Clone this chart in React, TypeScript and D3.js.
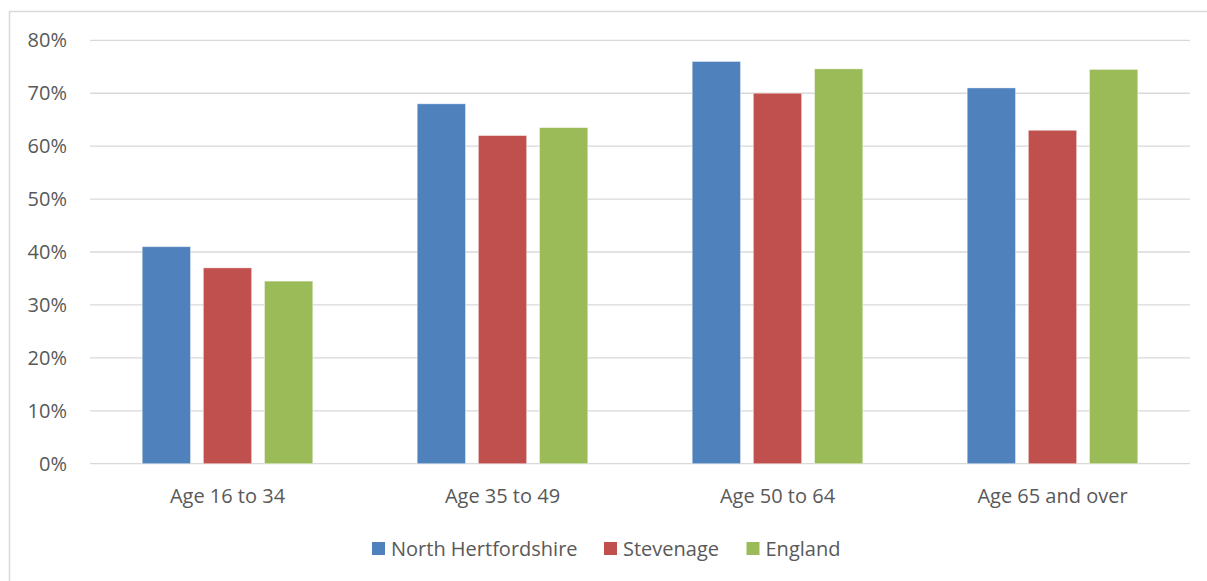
import React from "react";
import * as d3 from "d3";

const categories = ["Age 16 to 34", "Age 35 to 49", "Age 50 to 64", "Age 65 and over"];
const seriesNames = ["North Hertfordshire", "Stevenage", "England"];
const northHerts = [41, 68, 76, 71];
const stevenage = [37, 62, 70, 63];
const england = [34.5, 63.5, 74.6, 74.5];
const seriesValues = [northHerts, stevenage, england];
const colors = ["#4F81BD", "#C0504D", "#9BBB59"];
const yTicks = [0, 10, 20, 30, 40, 50, 60, 70, 80];

const W = 1207;
const H = 581;
const FONT = "'Open Sans', sans-serif";
const TEXT = "#595959";
const FS = 20;

export default function App() {
  const left = 90, right = 1190, top = 40.3, bottom = 463.7;
  const x0 = d3.scaleBand<string>().domain(categories).range([left, right]).paddingInner(0.333).paddingOuter(0.1665);
  const x1 = d3.scaleBand<string>().domain(seriesNames).range([0, x0.bandwidth()]).paddingInner(0.21).paddingOuter(0.105);
  const y = d3.scaleLinear().domain([0, 80]).range([bottom, top]);

  const legendItems = [
    { name: seriesNames[0], x: 372 },
    { name: seriesNames[1], x: 604 },
    { name: seriesNames[2], x: 746.5 },
  ];

  return (
    <svg width={W} height={H} style={{ position: "fixed", left: 0, top: 0, background: "#fff" }}>
      <rect x={9.5} y={11.5} width={1210} height={600} fill="#fff" stroke="#d9d9d9" strokeWidth={1.5} />
      {yTicks.map((t) => (
        <g key={t}>
          <line x1={left} x2={right} y1={y(t)} y2={y(t)} stroke="#d9d9d9" strokeWidth={1.3} />
          <text x={67} y={y(t)} dy="0.35em" textAnchor="end" fontFamily={FONT} fontSize={FS} fill={TEXT}>
            {t}%
          </text>
        </g>
      ))}
      {categories.map((c, ci) => (
        <g key={c}>
          {seriesNames.map((s, si) => {
            const v = seriesValues[si][ci];
            const bx = (x0(c) as number) + (x1(s) as number);
            return (
              <rect key={s} x={bx} y={y(v)} width={x1.bandwidth()} height={y(0) - y(v)} fill={colors[si]} stroke="#ffffff" strokeOpacity={0.5} strokeWidth={0.8} />
            );
          })}
          <text x={(x0(c) as number) + x0.bandwidth() / 2} y={496} dy="0.35em" textAnchor="middle" fontFamily={FONT} fontSize={FS} fill={TEXT}>
            {c}
          </text>
        </g>
      ))}
      {legendItems.map((l, i) => (
        <g key={l.name}>
          <rect x={l.x} y={542} width={13} height={13} fill={colors[i]} />
          <text x={l.x + 19} y={548.5} dy="0.35em" fontFamily={FONT} fontSize={FS} fill={TEXT}>
            {l.name}
          </text>
        </g>
      ))}
    </svg>
  );
}
